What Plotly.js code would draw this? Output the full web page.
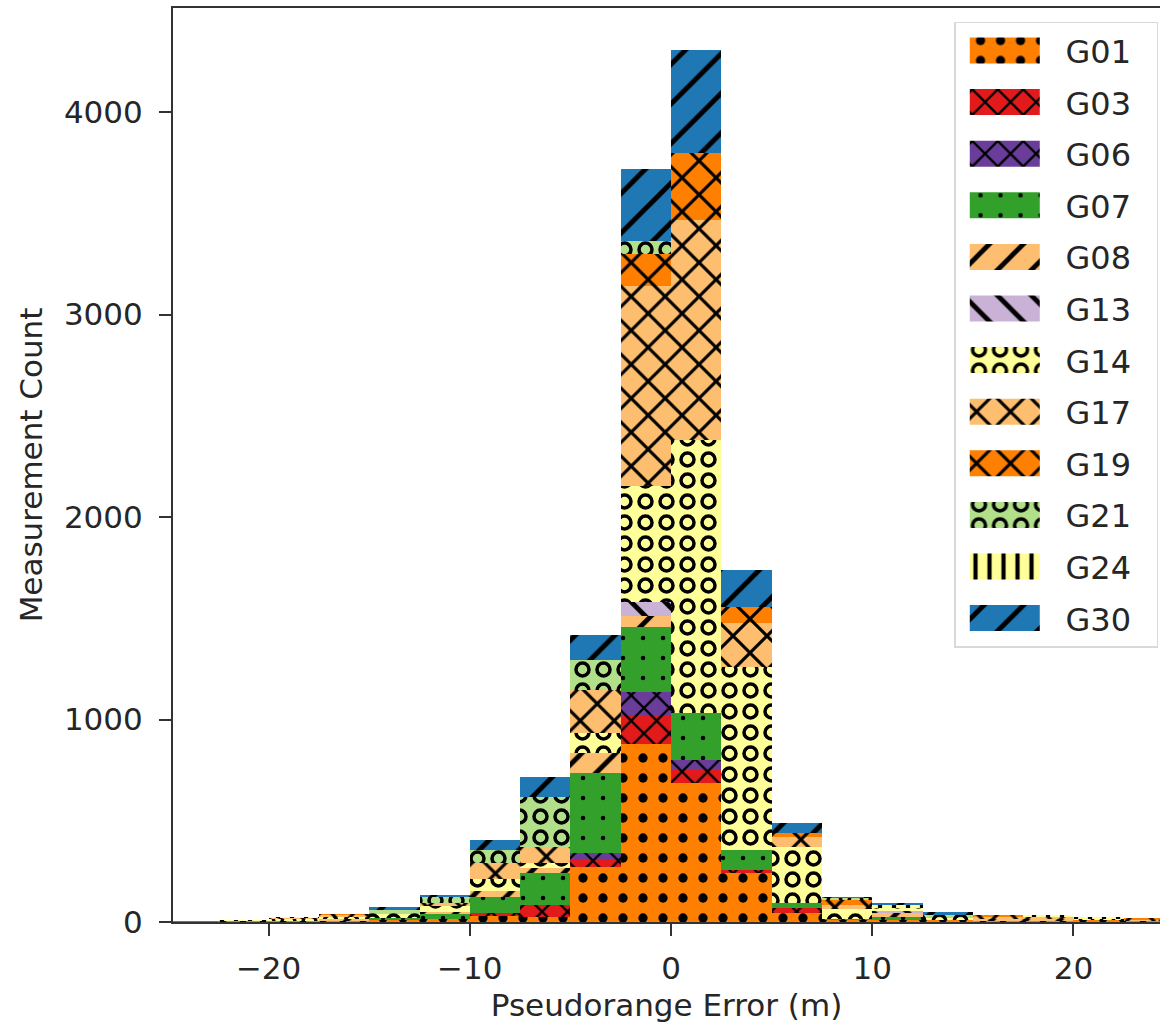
<!DOCTYPE html>
<html>
<head>
<meta charset="utf-8">
<script src="https://cdn.plot.ly/plotly-3.0.1.min.js"></script>
<style>
  html, body { margin: 0; padding: 0; background: #fff; overflow: hidden; }
  #chart { width: 1160px; height: 1029px; }
</style>
</head>
<body>
<div id="chart"></div>
<script>
// Bin centres of the stacked histogram (bin width 2.5 m, from -25 to 25)
const binCenters = [-23.75, -21.25, -18.75, -16.25, -13.75, -11.25, -8.75, -6.25, -3.75, -1.25,
                    1.25, 3.75, 6.25, 8.75, 11.25, 13.75, 16.25, 18.75, 21.25, 23.75];
const binWidth = 2.5;

const satellites = ['G01', 'G03', 'G06', 'G07', 'G08', 'G13', 'G14', 'G17', 'G19', 'G21', 'G24', 'G30'];

const G01 = [0, 4, 6, 5, 11, 15, 29, 26, 273, 879, 686, 240, 45, 10, 10, 11, 7, 7, 9, 6];
const G03 = [0, 0, 0, 0, 0, 0, 15, 58, 34, 140, 64, 17, 24, 0, 0, 0, 0, 0, 0, 0];
const G06 = [0, 0, 0, 0, 0, 0, 0, 0, 33, 117, 50, 0, 0, 0, 0, 0, 0, 0, 0, 0];
const G07 = [5, 0, 0, 0, 10, 25, 79, 158, 395, 321, 232, 100, 25, 5, 15, 0, 0, 0, 0, 0];
const G08 = [0, 0, 0, 8, 0, 10, 30, 25, 100, 56, 0, 0, 0, 0, 20, 0, 8, 10, 0, 0];
const G13 = [0, 0, 0, 0, 0, 0, 0, 0, 0, 67, 0, 0, 0, 0, 10, 0, 0, 0, 0, 0];
const G14 = [0, 0, 8, 10, 20, 30, 60, 24, 98, 574, 1348, 903, 276, 50, 15, 10, 0, 0, 8, 0];
const G17 = [0, 0, 8, 10, 0, 15, 80, 81, 213, 988, 1087, 217, 50, 20, 0, 0, 10, 10, 0, 6];
const G19 = [0, 3, 0, 5, 0, 0, 0, 0, 0, 157, 329, 81, 19, 25, 0, 0, 10, 0, 0, 8];
const G21 = [0, 0, 0, 0, 20, 30, 65, 246, 150, 65, 0, 0, 0, 10, 0, 15, 0, 0, 0, 0];
const G24 = [0, 3, 5, 0, 0, 0, 0, 0, 0, 0, 0, 0, 0, 0, 14, 0, 0, 8, 10, 0];
const G30 = [0, 0, 0, 0, 15, 8, 49, 99, 120, 357, 510, 181, 50, 5, 10, 15, 0, 0, 0, 0];

const counts = [G01, G03, G06, G07, G08, G13, G14, G17, G19, G21, G24, G30];

const xTicks = [-20, -10, 0, 10, 20];
const yTicks = [0, 1000, 2000, 3000, 4000];

// styles (colour + hatch) per satellite
const RING = '#010101'; // tag colour for ring-type hatches, post-processed below
const styles = [
  {color: '#ff7f00', shape: '.', size: 20, solidity: 0.17, fg: '#000000'},
  {color: '#e31a1c', shape: 'x', size: 18, solidity: 0.24, fg: '#000000'},
  {color: '#6a3d9a', shape: 'x', size: 18, solidity: 0.24, fg: '#000000'},
  {color: '#33a02c', shape: '.', size: 20, solidity: 0.04, fg: '#000000'},
  {color: '#fdbf6f', shape: '/', size: 24, solidity: 0.2, fg: '#000000'},
  {color: '#cab2d6', shape: '\\', size: 24, solidity: 0.2, fg: '#000000'},
  {color: '#ffff99', shape: '.', size: 21, solidity: 0.3, fg: RING},
  {color: '#fdbf6f', shape: 'x', size: 24, solidity: 0.24, fg: '#000000'},
  {color: '#ff7f00', shape: 'x', size: 24, solidity: 0.24, fg: '#000000'},
  {color: '#b2df8a', shape: '.', size: 21, solidity: 0.3, fg: RING},
  {color: '#ffff99', shape: '|', size: 14, solidity: 0.3, fg: '#000000'},
  {color: '#1f78b4', shape: '/', size: 28, solidity: 0.18, fg: '#000000'}
];

const traces = satellites.map((name, i) => ({
  type: 'bar',
  name: name,
  x: binCenters,
  y: counts[i],
  width: binWidth,
  legendgroup: name,
  marker: {
    color: styles[i].color,
    line: {width: 0},
    pattern: {
      shape: styles[i].shape,
      fgcolor: styles[i].fg,
      bgcolor: styles[i].color,
      size: styles[i].size,
      solidity: styles[i].solidity,
      fillmode: 'replace'
    }
  },
  hoverinfo: 'name+y'
}));

const FONT = 'DejaVu Sans, sans-serif';
const TXT = '#262626';
const AX = '#333333';

const layout = {
  width: 1160,
  height: 1029,
  margin: {l: 173, r: 0, t: 8, b: 107},
  paper_bgcolor: '#ffffff',
  plot_bgcolor: '#ffffff',
  barmode: 'stack',
  bargap: 0,
  showlegend: true,
  font: {family: FONT, size: 32, color: TXT},
  xaxis: {
    range: [-24.75, 24.3],
    tickvals: xTicks,
    ticks: 'outside',
    ticklen: 12,
    tickwidth: 2,
    tickcolor: AX,
    ticklabelstandoff: 6,
    showline: true,
    linecolor: AX,
    linewidth: 2,
    mirror: true,
    showgrid: false,
    zeroline: false,
    tickfont: {family: FONT, size: 31, color: TXT},
    title: {text: 'Pseudorange Error (m)', font: {family: FONT, size: 31, color: TXT}, standoff: 9}
  },
  yaxis: {
    range: [0, 4514],
    tickvals: yTicks,
    ticks: 'outside',
    ticklen: 12,
    tickwidth: 2,
    tickcolor: AX,
    ticklabelstandoff: 10,
    showline: true,
    linecolor: AX,
    linewidth: 2,
    showgrid: false,
    zeroline: false,
    tickfont: {family: FONT, size: 31, color: TXT},
    title: {text: 'Measurement Count', font: {family: FONT, size: 31, color: TXT}, standoff: 12}
  },
  legend: {
    x: 0.998,
    y: 0.985,
    xanchor: 'right',
    yanchor: 'top',
    bgcolor: 'rgba(255,255,255,0.85)',
    bordercolor: '#d9d9d9',
    borderwidth: 1.5,
    font: {family: FONT, size: 32, color: TXT},
    tracegroupgap: 7,
    itemwidth: 100,
    traceorder: 'grouped'
  }
};

Plotly.newPlot('chart', traces, layout, {displayModeBar: false, staticPlot: true}).then(() => {
  // turn the tagged dot hatches into ring hatches (matplotlib 'O' style)
  document.querySelectorAll('pattern circle').forEach(c => {
    const f = (c.getAttribute('fill') || '').replace(/\s/g, '').toLowerCase();
    if (f === '#010101' || f === 'rgb(1,1,1)') {
      c.setAttribute('fill', 'none');
      c.setAttribute('stroke', '#000000');
      c.setAttribute('stroke-width', '3.5');
      c.setAttribute('r', '6.5');
    }
  });
  // full-scale hatch fills used by the bars, per trace
  const barFills = [];
  document.querySelectorAll('.barlayer .trace.bars').forEach(t => {
    const p = t.querySelector('path');
    barFills.push(p ? p.style.fill : null);
  });
  // matplotlib-like legend: wider frame, large rectangular swatches
  const EXTRA = 20;
  const legendG = document.querySelector('g.legend');
  const bg = document.querySelector('.legend .bg');
  if (legendG && bg) {
    const tf = legendG.getAttribute('transform') || '';
    const m = tf.match(/translate\(\s*([-\d.]+)[ ,]+([-\d.]+)\s*\)/);
    if (m) {
      legendG.setAttribute('transform', `translate(${parseFloat(m[1]) - EXTRA},${m[2]})`);
      bg.setAttribute('width', parseFloat(bg.getAttribute('width')) + EXTRA);
    }
    const bl = bg.getBoundingClientRect();
    document.querySelectorAll('.legend .traces').forEach((tr, i) => {
      tr.querySelectorAll('.legendpoints path').forEach(p => {
        const r = p.getBoundingClientRect();
        const cx = (r.left + r.right) / 2;
        const dx = (bl.left + 50) - cx;
        p.setAttribute('d', `M${dx + 35},13H${dx - 35}V-13H${dx + 35}Z`);
        if (barFills[i]) p.style.fill = barFills[i];
      });
    });
  }
});
</script>
</body>
</html>
